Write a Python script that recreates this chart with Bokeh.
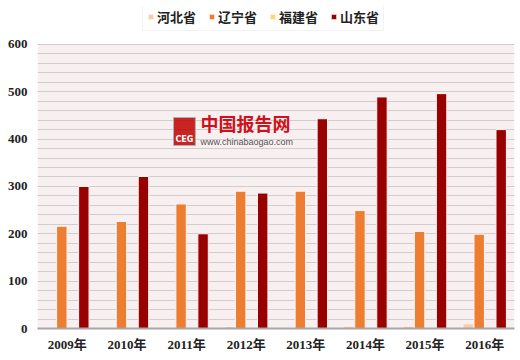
from bokeh.plotting import figure
from bokeh.models import (ColumnDataSource, FactorRange, Range1d, FixedTicker,
                          Legend, LegendItem, Label, BoxAnnotation)
from bokeh.transform import dodge
from bokeh.embed import file_html
from bokeh.resources import INLINE

years = ["2009年", "2010年", "2011年", "2012年", "2013年", "2014年", "2015年", "2016年"]
hebei = [0.5, 1, 2, 4, 2, 5, 5, 10]
liaoning = [216, 226, 263, 290, 290, 249, 205, 199]
fujian = [0.3, 0.5, 0.5, 0.5, 0.5, 0.5, 0.5, 0.5]
shandong = [300, 321, 200, 286, 443, 489, 496, 420]
y_ticks = [0, 100, 200, 300, 400, 500, 600]
y_minor = list(range(0, 601, 20))

series = [("河北省", "hebei", "#F8CBAD", -0.277),
          ("辽宁省", "liaoning", "#ED7D31", -0.092),
          ("福建省", "fujian", "#FFD966", 0.092),
          ("山东省", "shandong", "#990000", 0.277)]

src = ColumnDataSource(dict(years=years, hebei=hebei, liaoning=liaoning,
                            fujian=fujian, shandong=shandong))

p = figure(x_range=FactorRange(*years, range_padding=0), y_range=Range1d(0, 680),
           width=518, height=358, output_backend="svg", toolbar_location=None,
           min_border_left=37, min_border_right=4, min_border_top=6, min_border_bottom=30)
p.outline_line_color = None
p.background_fill_color = "white"
p.border_fill_color = "white"

p.add_layout(BoxAnnotation(bottom=0, top=y_ticks[-1], fill_color="#F8F0F0",
                           fill_alpha=1, line_color=None, level="image"))

items = []
for name, col, color, off in series:
    r = p.vbar(x=dodge("years", off, range=p.x_range), top=col, width=0.175, source=src,
               fill_color=color, line_color="#FFF5F5", line_width=1)
    items.append(LegendItem(label=name, renderers=[r]))

legend = Legend(items=items, orientation="horizontal", location=(105, 297),
                label_text_font="Noto Sans CJK SC", label_text_font_style="bold",
                label_text_font_size="13px", label_text_color="#222222",
                glyph_width=7, glyph_height=7, label_standoff=3, spacing=12,
                padding=4, margin=0, border_line_color="#E6E6E6",
                border_line_width=1.5, background_fill_color="white")
p.add_layout(legend)

p.yaxis.ticker = FixedTicker(ticks=y_ticks, minor_ticks=y_minor)
p.yaxis.axis_line_color = None
p.yaxis.major_tick_line_color = None
p.yaxis.minor_tick_line_color = None
p.yaxis.major_tick_out = 0
p.yaxis.minor_tick_out = 0
p.yaxis.major_label_text_font = "Liberation Serif"
p.yaxis.major_label_text_font_style = "bold"
p.yaxis.major_label_text_font_size = "13px"
p.yaxis.major_label_text_color = "#222222"
p.yaxis.major_label_standoff = 10

p.ygrid.grid_line_color = "#D2CDCD"
p.ygrid.minor_grid_line_color = "#D2CDCD"
p.ygrid.grid_line_width = 1.2
p.ygrid.minor_grid_line_width = 1.2
p.xgrid.grid_line_color = None

p.xaxis.axis_line_color = "#A6A6A6"
p.xaxis.axis_line_width = 2
p.xaxis.major_tick_line_color = None
p.xaxis.minor_tick_line_color = None
p.xaxis.major_tick_out = 0
p.xaxis.minor_tick_out = 0
p.xaxis.major_label_text_font = "'Liberation Serif', 'Noto Sans CJK SC'"
p.xaxis.major_label_text_font_style = "bold"
p.xaxis.major_label_text_font_size = "13px"
p.xaxis.major_label_text_color = "#222222"
p.xaxis.major_label_standoff = 8

# watermark
p.add_layout(Label(x=136, y=183, x_units="screen", y_units="screen", text="CEG",
                   text_color="white", text_font="DejaVu Sans", text_font_style="bold",
                   text_font_size="8px", background_fill_color="#C00000",
                   background_fill_alpha=0.85, padding=(2, 2, 17, 2),
                   border_line_color="#B0B0B0"))
p.add_layout(Label(x=163, y=193, x_units="screen", y_units="screen", text="中国报告网",
                   text_color="#D0101A", text_font="Noto Sans CJK SC",
                   text_font_style="bold", text_font_size="18px"))
p.add_layout(Label(x=163, y=182, x_units="screen", y_units="screen", text="www.chinabaogao.com",
                   text_color="#555555", text_font="Liberation Sans", text_font_size="9px"))

open("out.html", "w").write(file_html(p, INLINE))
